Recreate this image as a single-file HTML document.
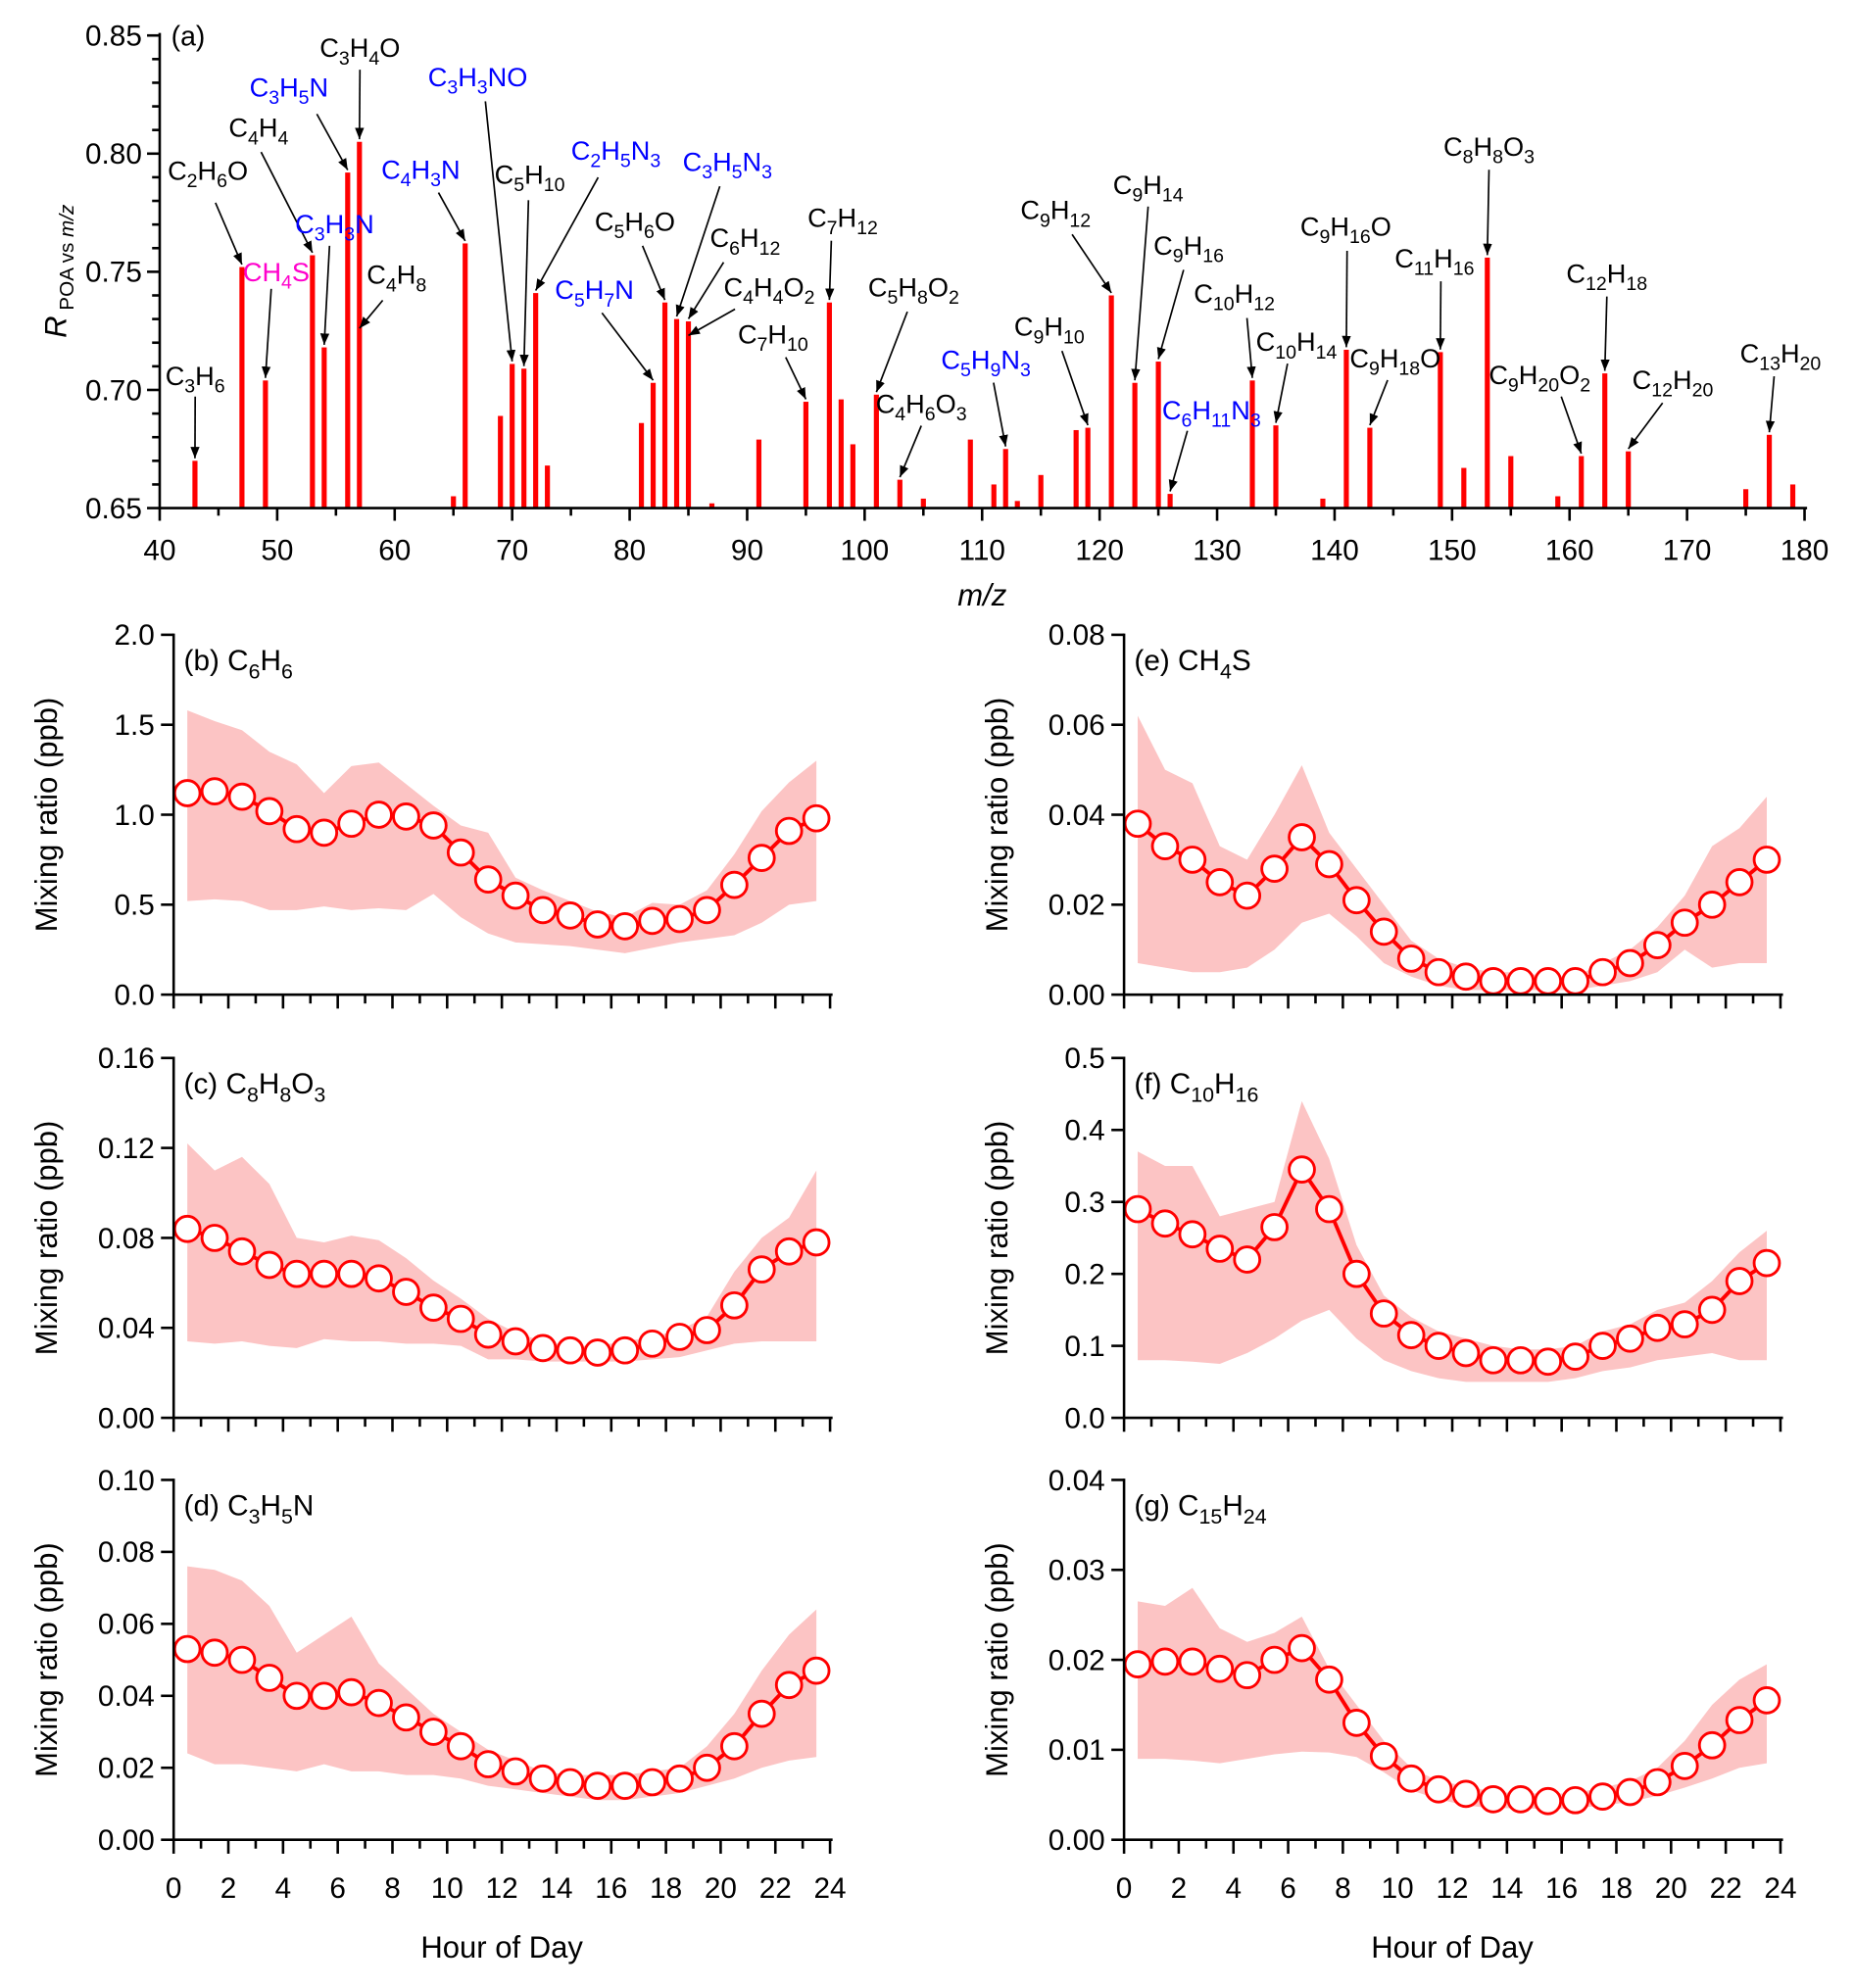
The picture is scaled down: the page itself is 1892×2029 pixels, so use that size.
<!DOCTYPE html>
<html><head><meta charset="utf-8"><style>
html,body{margin:0;padding:0;background:#fff}
svg{display:block;font-family:"Liberation Sans",Arial,sans-serif}
</style></head><body>
<svg id="fig" width="1892" height="2029" viewBox="0 0 1463 1569" xmlns="http://www.w3.org/2000/svg">
<defs><marker id="ah" viewBox="0 0 10 10" refX="10" refY="5" markerWidth="9" markerHeight="9" markerUnits="userSpaceOnUse" orient="auto"><path d="M0,1 L10,5 L0,9 z" fill="#000"/></marker></defs>
</svg>
<script>
// ---------- Panel (a) data ----------
const mzValues = [43,47,49,53,54,56,57,65,66,69,70,71,72,73,81,82,83,84,85,87,91,95,97,98,99,101,103,105,109,111,112,113,115,118,119,121,123,125,126,133,135,139,141,143,149,151,153,155,159,161,163,165,175,177,179];
const rValues = [0.670,0.752,0.704,0.757,0.718,0.792,0.805,0.655,0.762,0.689,0.711,0.709,0.741,0.668,0.686,0.703,0.737,0.730,0.729,0.652,0.679,0.695,0.737,0.696,0.677,0.698,0.662,0.654,0.679,0.660,0.675,0.653,0.664,0.683,0.684,0.740,0.703,0.712,0.656,0.704,0.685,0.654,0.717,0.684,0.716,0.667,0.756,0.672,0.655,0.672,0.707,0.674,0.658,0.681,0.660];
const xTicksA = [40,50,60,70,80,90,100,110,120,130,140,150,160,170,180];
const yTicksA = [0.65,0.70,0.75,0.80,0.85];
// annotations: [formula, labelX, labelY, color, arrowStartX, arrowStartY, targetMz, targetValue]
const annots = [
 ["C3H6",154,304,"#000",154,313,43,0.670],
 ["C2H6O",164,142,"#000",170,160,47,0.752],
 ["CH4S",218,222,"#f0c",214,228,49,0.704],
 ["C4H4",204,108,"#000",206,120,53,0.757],
 ["C3H5N",228,76,"#00f",250,90,56,0.792],
 ["C3H4O",284,45,"#000",284,55,57,0.805],
 ["C3H3N",264,184,"#00f",260,194,54,0.718],
 ["C4H8",313,224,"#000",302,237,57,0.725],
 ["C4H3N",332,141,"#00f",346,152,66,0.762],
 ["C3H3NO",377,68,"#00f",383,80,70,0.711],
 ["C5H10",418,145,"#000",417,158,71,0.709],
 ["C2H5N3",486,126,"#00f",472,140,72,0.741],
 ["C3H5N3",574,135,"#00f",568,147,84,0.730],
 ["C5H6O",501,182,"#000",507,194,83,0.737],
 ["C6H12",588,195,"#000",571,207,85,0.729],
 ["C4H4O2",607,234,"#000",580,244,85,0.722],
 ["C5H7N",469,236,"#00f",475,247,82,0.703],
 ["C7H12",665,179,"#000",656,190,97,0.737],
 ["C7H10",610,271,"#000",620,282,95,0.695],
 ["C5H8O2",721,234,"#000",716,246,101,0.698],
 ["C4H6O3",727,326,"#000",727,336,103,0.662],
 ["C9H12",833,173,"#000",846,185,121,0.740],
 ["C9H14",906,153,"#000",906,163,123,0.703],
 ["C9H16",938,201,"#000",934,213,125,0.712],
 ["C5H9N3",778,291,"#00f",784,302,112,0.675],
 ["C9H10",828,265,"#000",838,277,119,0.684],
 ["C10H12",974,239,"#000",984,251,133,0.704],
 ["C10H14",1023,277,"#000",1016,287,135,0.685],
 ["C6H11N3",956,331,"#00f",937,340,126,0.656],
 ["C9H16O",1062,186,"#000",1063,198,141,0.717],
 ["C9H18O",1101,290,"#000",1095,300,143,0.684],
 ["C11H16",1132,211,"#000",1137,222,149,0.716],
 ["C8H8O3",1175,123,"#000",1175,134,153,0.756],
 ["C9H20O2",1215,303,"#000",1232,313,161,0.672],
 ["C12H18",1268,223,"#000",1268,234,163,0.707],
 ["C12H20",1320,307,"#000",1312,318,165,0.674],
 ["C13H20",1405,286,"#000",1400,297,177,0.681]
];

// ---------- Diurnal data ----------
const hours = [0.5,1.5,2.5,3.5,4.5,5.5,6.5,7.5,8.5,9.5,10.5,11.5,12.5,13.5,14.5,15.5,16.5,17.5,18.5,19.5,20.5,21.5,22.5,23.5];
const hourTicks = [0,2,4,6,8,10,12,14,16,18,20,22,24];
const bMean = [1.12,1.13,1.10,1.02,0.92,0.90,0.95,1.00,0.99,0.94,0.79,0.64,0.55,0.47,0.44,0.39,0.38,0.41,0.42,0.47,0.61,0.76,0.91,0.98];
const bUpper = [1.58,1.52,1.47,1.35,1.28,1.12,1.27,1.29,1.17,1.05,0.94,0.90,0.65,0.58,0.52,0.46,0.43,0.51,0.50,0.58,0.78,1.02,1.18,1.30];
const bLower = [0.52,0.53,0.52,0.47,0.47,0.49,0.47,0.48,0.47,0.56,0.43,0.34,0.29,0.28,0.27,0.25,0.23,0.26,0.29,0.31,0.33,0.40,0.50,0.52];
const cMean = [0.084,0.080,0.074,0.068,0.064,0.064,0.064,0.062,0.056,0.049,0.044,0.037,0.034,0.031,0.030,0.029,0.030,0.033,0.036,0.039,0.050,0.066,0.074,0.078];
const cUpper = [0.122,0.110,0.116,0.104,0.080,0.078,0.081,0.079,0.071,0.061,0.053,0.044,0.038,0.034,0.032,0.032,0.034,0.036,0.039,0.045,0.065,0.080,0.089,0.110];
const cLower = [0.034,0.033,0.034,0.032,0.031,0.035,0.034,0.034,0.033,0.033,0.032,0.026,0.026,0.025,0.025,0.025,0.025,0.026,0.027,0.030,0.033,0.034,0.034,0.034];
const dMean = [0.053,0.052,0.050,0.045,0.040,0.040,0.041,0.038,0.034,0.030,0.026,0.021,0.019,0.017,0.016,0.015,0.015,0.016,0.017,0.020,0.026,0.035,0.043,0.047];
const dUpper = [0.076,0.075,0.072,0.065,0.052,0.057,0.062,0.049,0.042,0.035,0.030,0.025,0.022,0.019,0.018,0.018,0.018,0.019,0.020,0.026,0.035,0.047,0.057,0.064];
const dLower = [0.024,0.021,0.021,0.020,0.019,0.021,0.019,0.019,0.018,0.018,0.017,0.015,0.014,0.013,0.012,0.011,0.011,0.012,0.013,0.015,0.017,0.020,0.022,0.023];
const eMean = [0.038,0.033,0.030,0.025,0.022,0.028,0.035,0.029,0.021,0.014,0.008,0.005,0.004,0.003,0.003,0.003,0.003,0.005,0.007,0.011,0.016,0.020,0.025,0.030];
const eUpper = [0.062,0.050,0.047,0.033,0.030,0.040,0.051,0.036,0.028,0.020,0.012,0.008,0.006,0.005,0.005,0.004,0.004,0.007,0.010,0.015,0.022,0.033,0.037,0.044];
const eLower = [0.007,0.006,0.005,0.005,0.006,0.010,0.016,0.018,0.013,0.007,0.004,0.002,0.001,0.001,0.001,0.001,0.001,0.002,0.003,0.005,0.010,0.006,0.007,0.007];
const fMean = [0.29,0.27,0.255,0.235,0.22,0.265,0.345,0.29,0.20,0.145,0.115,0.10,0.09,0.08,0.08,0.078,0.085,0.10,0.11,0.125,0.13,0.15,0.19,0.215];
const fUpper = [0.37,0.35,0.35,0.28,0.29,0.30,0.44,0.36,0.24,0.17,0.14,0.12,0.11,0.10,0.095,0.095,0.10,0.12,0.13,0.15,0.16,0.19,0.23,0.26];
const fLower = [0.08,0.08,0.078,0.075,0.09,0.11,0.135,0.15,0.11,0.08,0.065,0.055,0.05,0.05,0.05,0.05,0.055,0.065,0.07,0.08,0.085,0.09,0.08,0.08];
const gMean = [0.0195,0.0198,0.0198,0.019,0.0183,0.020,0.0213,0.0178,0.013,0.0093,0.0068,0.0056,0.0051,0.0045,0.0045,0.0043,0.0044,0.0048,0.0053,0.0064,0.0082,0.0105,0.0133,0.0155];
const gUpper = [0.0265,0.026,0.028,0.0235,0.022,0.023,0.0248,0.019,0.015,0.011,0.008,0.0065,0.006,0.0053,0.0052,0.0051,0.0052,0.0058,0.0065,0.008,0.011,0.015,0.0178,0.0195];
const gLower = [0.009,0.009,0.0088,0.0085,0.009,0.0095,0.0098,0.0097,0.0092,0.0075,0.0055,0.0045,0.0038,0.0035,0.0035,0.0034,0.0035,0.0038,0.0042,0.0049,0.0058,0.0068,0.0080,0.0085];
const bTicks = ["0.0","0.5","1.0","1.5","2.0"];
const cTicks = ["0.00","0.04","0.08","0.12","0.16"];
const dTicks = ["0.00","0.02","0.04","0.06","0.08","0.10"];
const eTicks = ["0.00","0.02","0.04","0.06","0.08"];
const fTicks = ["0.0","0.1","0.2","0.3","0.4","0.5"];
const gTicks = ["0.00","0.01","0.02","0.03","0.04"];

const NS="http://www.w3.org/2000/svg";
const svg=document.getElementById('fig');
function mk(tag,attrs,parent){const e=document.createElementNS(NS,tag);for(const k in attrs)e.setAttribute(k,attrs[k]);(parent||svg).appendChild(e);return e;}
function formula(t,str,fs){
  const parts=str.match(/[^\d]+|\d+/g);
  let sub=false;
  parts.forEach(p=>{
    const isNum=/^\d+$/.test(p);
    const ts=document.createElementNS(NS,'tspan');
    if(isNum){ts.setAttribute('font-size',fs*0.72);ts.setAttribute('dy',fs*0.28);sub=true;}
    else{ if(sub){ts.setAttribute('dy',-fs*0.28);} sub=false;}
    ts.setAttribute('xml:space','preserve');
    ts.textContent=p;t.appendChild(ts);
  });
}
function line(x1,y1,x2,y2,w,parent){return mk('line',{x1,y1,x2,y2,stroke:'#000','stroke-width':w||2},parent);}

// ---------- Panel (a) ----------
const ga=mk('g',{});


const AX0=126,AX1=1424,AY0=401,AY1=28;
const xa=m=>AX0+(m-40)/140*(AX1-AX0);
const ya=v=>AY0-(v-0.65)/0.20*(AY0-AY1);
mzValues.forEach((m,i)=>{
  const r=mk('rect',{x:xa(m)-2,y:ya(rValues[i]),width:4,height:AY0-ya(rValues[i]),fill:'#f00'},ga);
  
  
});
line(AX0,AY0,AX1+2,AY0,2,ga);line(AX0,AY0+1,AX0,AY1-2,2,ga);
for(let m=40;m<=180;m+=5){const big=m%10===0;line(xa(m),AY0,xa(m),AY0+(big?10:6),2,ga);}
xTicksA.forEach(m=>{const t=mk('text',{x:xa(m),y:AY0+41,'font-size':23,'text-anchor':'middle'},ga);t.textContent=m;});
for(let k=0;k<=20;k++){const v=0.65+k*0.01;const big=k%5===0;line(AX0-(big?10:6),ya(v),AX0,ya(v),2,ga);}
yTicksA.forEach(v=>{const t=mk('text',{x:AX0-14,y:ya(v)+8,'font-size':23,'text-anchor':'end'},ga);t.textContent=v.toFixed(2);});
{const t=mk('text',{x:135,y:36,'font-size':22},ga);t.textContent='(a)';}
{const t=mk('text',{x:775,y:478,'font-size':24,'font-style':'italic','text-anchor':'middle'},ga);t.textContent='m/z';
 }
{const t=mk('text',{transform:'translate(52,214) rotate(-90)','font-size':24,'text-anchor':'middle'},ga);
 
 const a=document.createElementNS(NS,'tspan');a.setAttribute('font-style','italic');a.textContent='R';t.appendChild(a);
 const b=document.createElementNS(NS,'tspan');b.setAttribute('font-size',16);b.setAttribute('dy',6);b.textContent=' POA vs ';t.appendChild(b);
 const c=document.createElementNS(NS,'tspan');c.setAttribute('font-size',16);c.setAttribute('font-style','italic');c.textContent='m/z';t.appendChild(c);}
annots.forEach(a=>{
  const t=mk('text',{x:a[1],y:a[2],'font-size':21,'text-anchor':'middle',fill:a[3]},ga);
  
  
  formula(t,a[0],21);
  const l=mk('line',{x1:a[4],y1:a[5],x2:xa(a[6]),y2:ya(a[7])-2,stroke:'#000','stroke-width':1.3,'marker-end':'url(#ah)'},ga);
  
  
});

// ---------- Diurnal panels ----------
function diurnal(id,name,x0,yTop,yBot,ticks,ymax,mean,up,lo,showX){
  const g=mk('g',{});
  
  
  const X1=x0+518;
  const xs=h=>x0+h/24*518;
  const ys=v=>yBot-v/ymax*(yBot-yTop);
  let d='M'+hours.map((h,i)=>xs(h)+','+ys(up[i])).join(' L');
  for(let i=hours.length-1;i>=0;i--)d+=' L'+xs(hours[i])+','+ys(lo[i]);
  const band=mk('path',{d:d+'Z',fill:'#fcc4c4'},g);
  
  
  const ln=mk('polyline',{points:hours.map((h,i)=>xs(h)+','+ys(mean[i])).join(' '),fill:'none',stroke:'#f00','stroke-width':3},g);
  
  
  hours.forEach((h,i)=>{
    const c=mk('circle',{cx:xs(h),cy:ys(mean[i]),r:10,fill:'#fff',stroke:'#f00','stroke-width':2.2},g);
    
    
  });
  line(x0,yBot,X1+2,yBot,2,g);line(x0,yBot+1,x0,yTop-1,2,g);
  for(let h=0;h<=24;h++){line(xs(h),yBot,xs(h),yBot+(h%2===0?11:7),2,g);}
  if(showX){hourTicks.forEach(h=>{const t=mk('text',{x:xs(h),y:yBot+46,'font-size':23,'text-anchor':'middle'},g);t.textContent=h;});
    const t=mk('text',{x:x0+259,y:yBot+93,'font-size':24,'text-anchor':'middle'},g);t.textContent='Hour of Day';
    }
  const step=ymax/(ticks.length-1);
  ticks.forEach((lab,k)=>{const y=ys(k*step);line(x0-10,y,x0,y,2,g);
    const t=mk('text',{x:x0-15,y:y+8,'font-size':23,'text-anchor':'end'},g);t.textContent=lab;});
  const yt=mk('text',{transform:'translate('+(x0-92)+','+((yTop+yBot)/2)+') rotate(-90)','font-size':24,'text-anchor':'middle'},g);
  yt.textContent='Mixing ratio (ppb)';
  
  const tl=mk('text',{x:x0+8,y:yTop+28,'font-size':23},g);
  
  formula(tl,'('+id+') '+name,23);
}
diurnal('b','C6H6',137,501,785,bTicks,2.0,bMean,bUpper,bLower,false);
diurnal('c','C8H8O3',137,835,1119,cTicks,0.16,cMean,cUpper,cLower,false);
diurnal('d','C3H5N',137,1168,1452,dTicks,0.10,dMean,dUpper,dLower,true);
diurnal('e','CH4S',887,501,785,eTicks,0.08,eMean,eUpper,eLower,false);
diurnal('f','C10H16',887,835,1119,fTicks,0.5,fMean,fUpper,fLower,false);
diurnal('g','C15H24',887,1168,1452,gTicks,0.04,gMean,gUpper,gLower,true);
</script>
</body></html>
